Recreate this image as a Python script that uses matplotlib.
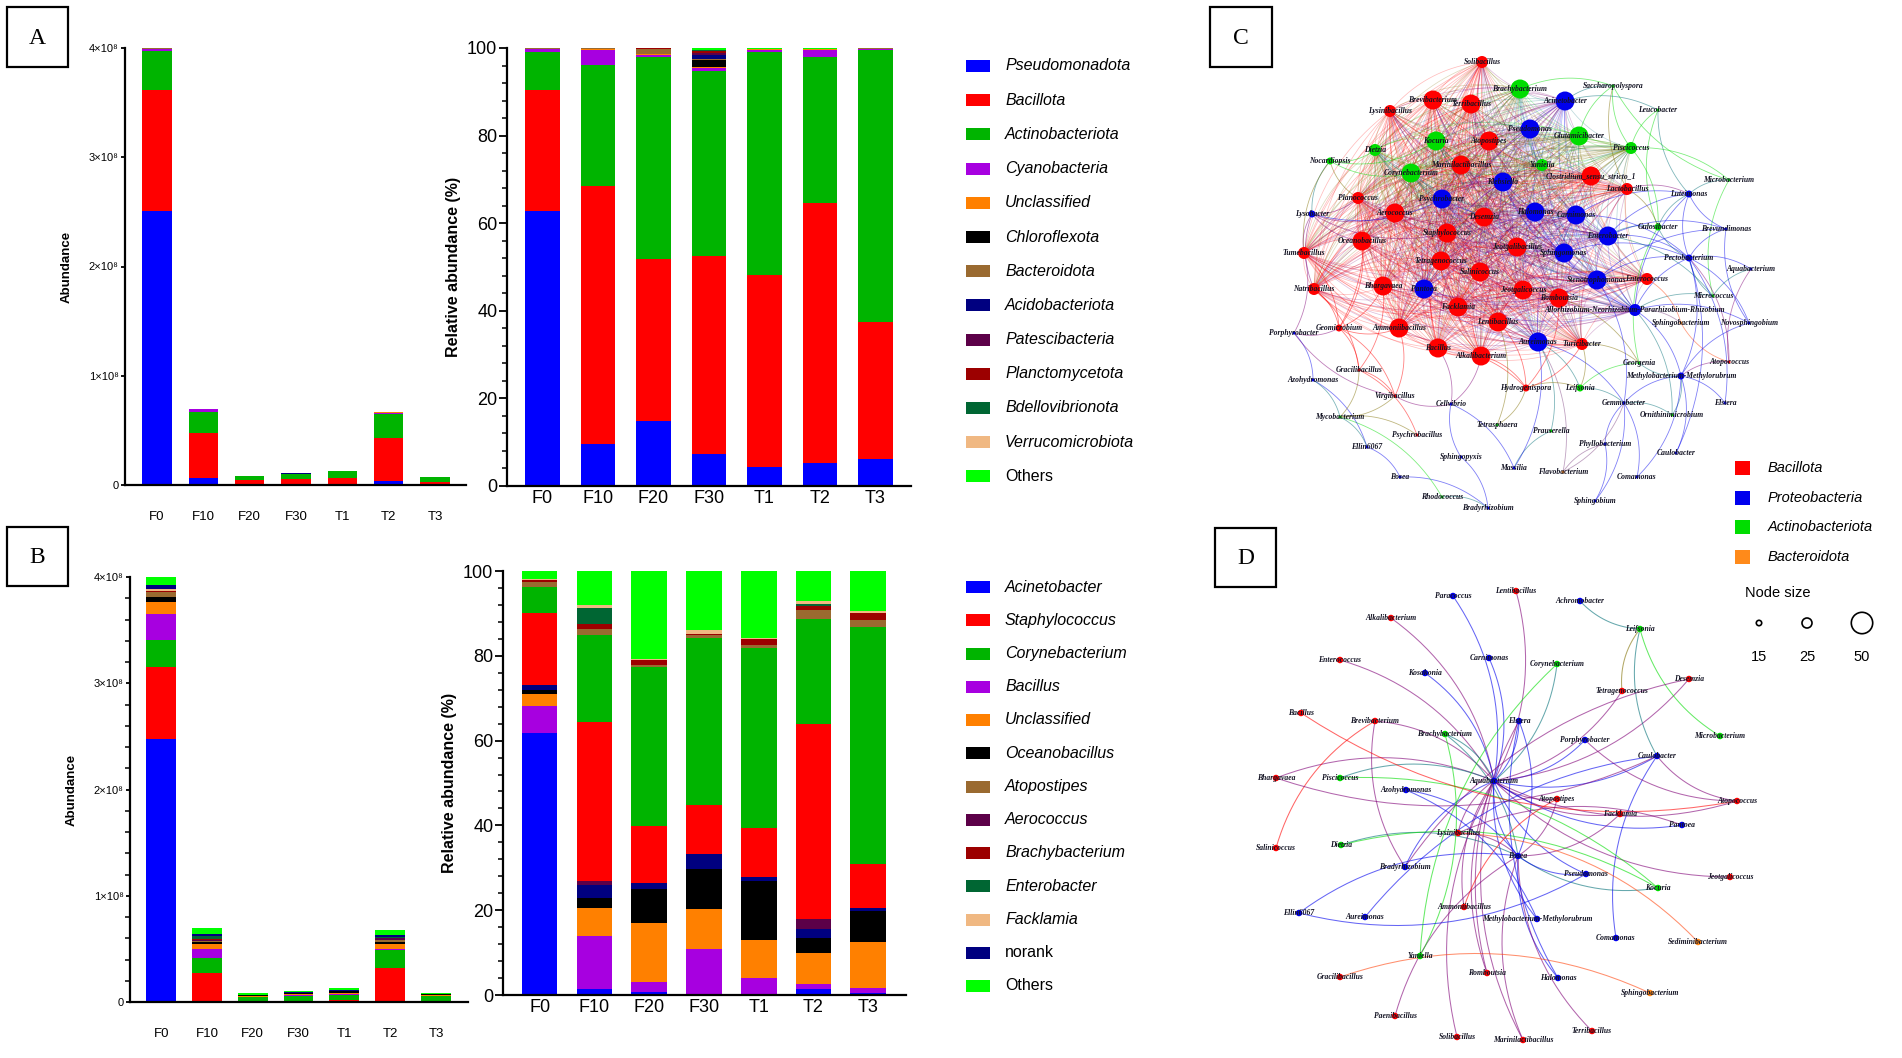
"""
Bacterial community bars (phylum / genus) plus co-occurrence networks.
"""

import numpy as np
import matplotlib
matplotlib.use("Agg")
import matplotlib.pyplot as plt
from matplotlib import font_manager
from matplotlib.collections import LineCollection
from matplotlib.patches import Rectangle, Circle

W, H = 1902, 1058

installed = {f.name for f in font_manager.fontManager.ttflist}
NARROW = "Liberation Sans Narrow" if "Liberation Sans Narrow" in installed else "Liberation Sans"
plt.rcParams["font.family"] = ["Liberation Sans", "DejaVu Sans"]

samples = ["F0", "F10", "F20", "F30", "T1", "T2", "T3"]

# ---- panel A: phyla, relative abundance (%) ----
phylum_names = ["Pseudomonadota", "Bacillota", "Actinobacteriota", "Cyanobacteria",
                "Unclassified", "Chloroflexota", "Bacteroidota", "Acidobacteriota",
                "Patescibacteria", "Planctomycetota", "Bdellovibrionota",
                "Verrucomicrobiota", "Others"]
phylum_colors = ["#0000ff", "#ff0000", "#00b400", "#a700e0", "#ff8000", "#000000",
                 "#9a6a30", "#000080", "#5c0048", "#9c0000", "#006633", "#f0b882",
                 "#00ff00"]
pseudomonadota = [62.7, 9.7, 14.9, 7.3, 4.3, 5.3, 6.1]
bacillota = [27.8, 58.8, 37.0, 45.3, 43.9, 59.3, 31.4]
actinobacteriota = [8.7, 27.7, 46.0, 42.1, 50.9, 33.3, 62.0]
cyanobacteria = [0.5, 3.3, 0.4, 0.7, 0.5, 1.7, 0.2]
unclassified_p = [0.1, 0.3, 0.3, 0.3, 0.1, 0.1, 0.1]
chloroflexota = [0.0, 0.0, 0.1, 1.6, 0.0, 0.0, 0.0]
bacteroidota = [0.1, 0.1, 1.0, 0.3, 0.1, 0.1, 0.1]
acidobacteriota = [0.0, 0.0, 0.1, 0.8, 0.0, 0.0, 0.0]
patescibacteria = [0.0, 0.0, 0.0, 0.5, 0.0, 0.0, 0.0]
planctomycetota = [0.0, 0.0, 0.1, 0.5, 0.0, 0.0, 0.0]
bdellovibrionota = [0.0, 0.0, 0.0, 0.1, 0.0, 0.0, 0.0]
verrucomicrobiota = [0.0, 0.1, 0.0, 0.1, 0.0, 0.0, 0.0]
others_p = [0.1, 0.0, 0.1, 0.4, 0.2, 0.2, 0.1]
phylum_rows = [pseudomonadota, bacillota, actinobacteriota, cyanobacteria, unclassified_p,
               chloroflexota, bacteroidota, acidobacteriota, patescibacteria,
               planctomycetota, bdellovibrionota, verrucomicrobiota, others_p]
total_a = [4.00e8, 0.696e8, 0.085e8, 0.107e8, 0.128e8, 0.666e8, 0.076e8]

# ---- panel B: genera, relative abundance (%) ----
genus_names = ["Acinetobacter", "Staphylococcus", "Corynebacterium", "Bacillus",
               "Unclassified", "Oceanobacillus", "Atopostipes", "Aerococcus",
               "Brachybacterium", "Enterobacter", "Facklamia", "norank", "Others"]
genus_colors = ["#0000ff", "#ff0000", "#00b400", "#a700e0", "#ff8000", "#000000",
                "#9a6a30", "#5c0048", "#9c0000", "#006633", "#f0b882", "#000080",
                "#00ff00"]
acinetobacter = [61.9, 1.5, 0.8, 0.0, 0.0, 1.5, 0.4]
staphylococcus = [17.0, 37.6, 13.5, 11.4, 11.6, 45.8, 10.4]
corynebacterium = [6.2, 20.3, 37.5, 39.5, 42.4, 24.9, 55.7]
bacillus = [6.3, 12.4, 2.3, 10.9, 3.9, 1.2, 1.3]
unclassified_g = [2.7, 6.6, 13.9, 9.4, 9.0, 7.3, 10.8]
oceanobacillus = [1.1, 2.3, 8.0, 9.3, 14.1, 3.5, 7.4]
atopostipes = [1.2, 1.6, 0.6, 0.6, 0.8, 2.2, 1.7]
aerococcus = [0.0, 1.0, 0.0, 0.0, 0.0, 2.5, 0.0]
brachybacterium = [0.4, 1.2, 1.2, 0.4, 1.4, 0.9, 1.7]
enterobacter = [0.0, 3.6, 0.0, 0.0, 0.0, 0.4, 0.0]
facklamia = [0.3, 0.7, 0.2, 0.8, 0.3, 0.8, 0.5]
norank = [1.0, 3.1, 1.3, 3.7, 0.8, 2.0, 0.7]
others_g = [1.9, 8.1, 20.7, 14.0, 15.7, 7.0, 9.4]
genus_rows = [acinetobacter, staphylococcus, corynebacterium, bacillus, unclassified_g,
              oceanobacillus, atopostipes, aerococcus, brachybacterium, enterobacter,
              facklamia, norank, others_g]
total_b = [4.00e8, 0.70e8, 0.085e8, 0.104e8, 0.129e8, 0.676e8, 0.085e8]
# stacking order used in the relative-abundance bars of panel B (bottom -> top)
genus_stack_rel = [0, 3, 4, 5, 11, 7, 1, 2, 6, 8, 9, 10, 12]

# ---- panel C: network nodes (layout in panel pixels) ----
net_colors = {"Bac": "#ff0000", "Pro": "#0000ee", "Act": "#00dd00", "Bct": "#ff8a1a"}
size_px = {"L": 19, "M": 12, "S": 7, "T": 3}
c_nodes = [
    ("Solibacillus", "Bac", "M", 292, 62), ("Brachybacterium", "Act", "L", 330, 89),
    ("Saccharopolyspora", "Act", "T", 423, 86), ("Acinetobacter", "Pro", "L", 375, 101),
    ("Leucobacter", "Act", "T", 468, 110), ("Brevibacterium", "Bac", "L", 243, 100),
    ("Terribacillus", "Bac", "L", 281, 104), ("Lysinibacillus", "Bac", "M", 200, 111),
    ("Pseudomonas", "Pro", "L", 340, 129), ("Glutamicibacter", "Act", "L", 389, 136),
    ("Kocuria", "Act", "L", 246, 141), ("Atopostipes", "Bac", "L", 299, 141),
    ("Dietzia", "Act", "M", 185, 150), ("Piscicoccus", "Act", "M", 441, 148),
    ("Nocardiopsis", "Act", "S", 140, 161), ("Marinilactibacillus", "Bac", "L", 271, 165),
    ("Yaniella", "Act", "M", 352, 165), ("Corynebacterium", "Act", "L", 221, 173),
    ("Clostridium_sensu_stricto_1", "Bac", "L", 401, 176), ("Klebsiella", "Pro", "L", 313, 182),
    ("Lactobacillus", "Bac", "M", 437, 189), ("Microbacterium", "Act", "T", 539, 180),
    ("Luteimonas", "Pro", "S", 499, 194), ("Planococcus", "Bac", "M", 168, 198),
    ("Psychrobacter", "Pro", "L", 252, 199), ("Lysobacter", "Pro", "S", 122, 214),
    ("Aerococcus", "Bac", "L", 205, 213), ("Desemzia", "Bac", "L", 294, 217),
    ("Halomonas", "Pro", "L", 345, 212), ("Carnimonas", "Pro", "L", 386, 215),
    ("Staphylococcus", "Bac", "L", 257, 233), ("Enterobacter", "Pro", "L", 418, 236),
    ("Gulosibacter", "Act", "S", 468, 227), ("Brevundimonas", "Pro", "T", 536, 229),
    ("Oceanobacillus", "Bac", "L", 172, 241), ("Tumebacillus", "Bac", "M", 114, 253),
    ("Jeotgalibacillus", "Bac", "L", 327, 247), ("Sphingomonas", "Pro", "L", 374, 253),
    ("Pectobacterium", "Pro", "S", 499, 258), ("Tetragenococcus", "Bac", "L", 251, 261),
    ("Salinicoccus", "Bac", "L", 290, 272), ("Aquabacterium", "Pro", "T", 561, 269),
    ("Natribacillus", "Bac", "M", 124, 289), ("Bhargavaea", "Bac", "L", 193, 286),
    ("Pantoea", "Pro", "L", 234, 289), ("Stenotrophomonas", "Pro", "L", 407, 280),
    ("Enterococcus", "Bac", "M", 457, 279), ("Jeotgalicoccus", "Bac", "L", 333, 290),
    ("Romboutsia", "Bac", "L", 369, 298), ("Facklamia", "Bac", "L", 268, 307),
    ("Allorhizobium-Neorhizobium-Pararhizobium-Rhizobium", "Pro", "M", 445, 310),
    ("Micrococcus", "Act", "T", 523, 296), ("Lentibacillus", "Bac", "L", 308, 322),
    ("Sphingobacterium", "Bct", "T", 491, 323), ("Novosphingobium", "Pro", "T", 559, 323),
    ("Geomicrobium", "Bac", "S", 149, 328), ("Porphyrobacter", "Pro", "T", 104, 333),
    ("Ammoniibacillus", "Bac", "L", 209, 328), ("Bacillus", "Bac", "L", 248, 348),
    ("Aureimonas", "Pro", "L", 348, 342), ("Turicibacter", "Bac", "M", 392, 344),
    ("Alkalibacterium", "Bac", "L", 291, 356), ("Georgenia", "Act", "T", 449, 363),
    ("Atopococcus", "Bac", "T", 539, 362), ("Gracilibacillus", "Bac", "T", 169, 370),
    ("Azohydromonas", "Pro", "T", 123, 380), ("Methylobacterium-Methylorubrum", "Pro", "S", 491, 376),
    ("Hydrogenispora", "Bac", "S", 336, 388), ("Leifsonia", "Act", "S", 390, 388),
    ("Virgibacillus", "Bac", "T", 205, 396), ("Cellvibrio", "Pro", "T", 261, 404),
    ("Gemmobacter", "Pro", "T", 434, 403), ("Elstera", "Pro", "T", 535, 403),
    ("Ornithinimicrobium", "Act", "T", 482, 415), ("Mycobacterium", "Act", "T", 150, 417),
    ("Tetrasphaera", "Act", "T", 307, 425), ("Psychrobacillus", "Bac", "T", 227, 435),
    ("Prauserella", "Act", "T", 361, 431), ("Phyllobacterium", "Pro", "T", 415, 444),
    ("Ellin6067", "Pro", "T", 177, 447), ("Caulobacter", "Pro", "T", 486, 453),
    ("Sphingopyxis", "Pro", "T", 271, 457), ("Massilia", "Pro", "T", 324, 468),
    ("Flavobacterium", "Bct", "T", 373, 472), ("Comamonas", "Pro", "T", 447, 477),
    ("Bosea", "Pro", "T", 210, 477), ("Rhodococcus", "Act", "T", 252, 497),
    ("Sphingobium", "Pro", "T", 405, 501), ("Bradyrhizobium", "Pro", "T", 298, 508),
]
# densely co-occurring core taxa (drawn as linked pairwise)
c_core = [n[0] for n in c_nodes if n[2] in ("L", "M")]
c_links = [
    ("Nocardiopsis", "Dietzia"), ("Nocardiopsis", "Corynebacterium"), ("Nocardiopsis", "Planococcus"),
    ("Nocardiopsis", "Lysobacter"), ("Nocardiopsis", "Kocuria"), ("Nocardiopsis", "Tumebacillus"),
    ("Lysobacter", "Planococcus"), ("Lysobacter", "Aerococcus"), ("Lysobacter", "Oceanobacillus"),
    ("Lysobacter", "Tumebacillus"), ("Lysobacter", "Natribacillus"), ("Lysobacter", "Psychrobacter"),
    ("Lysobacter", "Staphylococcus"), ("Saccharopolyspora", "Brachybacterium"),
    ("Saccharopolyspora", "Acinetobacter"), ("Saccharopolyspora", "Glutamicibacter"),
    ("Saccharopolyspora", "Piscicoccus"), ("Saccharopolyspora", "Lactobacillus"),
    ("Saccharopolyspora", "Microbacterium"), ("Leucobacter", "Piscicoccus"),
    ("Leucobacter", "Acinetobacter"), ("Leucobacter", "Gulosibacter"), ("Leucobacter", "Luteimonas"),
    ("Microbacterium", "Luteimonas"), ("Microbacterium", "Piscicoccus"), ("Microbacterium", "Micrococcus"),
    ("Luteimonas", "Lactobacillus"), ("Luteimonas", "Enterobacter"), ("Luteimonas", "Pectobacterium"),
    ("Luteimonas", "Brevundimonas"), ("Luteimonas", "Gulosibacter"), ("Luteimonas", "Carnimonas"),
    ("Luteimonas", "Allorhizobium-Neorhizobium-Pararhizobium-Rhizobium"),
    ("Gulosibacter", "Enterobacter"), ("Gulosibacter", "Piscicoccus"), ("Gulosibacter", "Lactobacillus"),
    ("Gulosibacter", "Pectobacterium"), ("Gulosibacter", "Georgenia"),
    ("Brevundimonas", "Pectobacterium"), ("Brevundimonas", "Enterobacter"),
    ("Brevundimonas", "Stenotrophomonas"), ("Brevundimonas", "Novosphingobium"),
    ("Pectobacterium", "Enterobacter"), ("Pectobacterium", "Stenotrophomonas"),
    ("Pectobacterium", "Allorhizobium-Neorhizobium-Pararhizobium-Rhizobium"),
    ("Pectobacterium", "Micrococcus"), ("Pectobacterium", "Carnimonas"), ("Pectobacterium", "Sphingomonas"),
    ("Aquabacterium", "Pectobacterium"), ("Aquabacterium", "Micrococcus"), ("Aquabacterium", "Atopococcus"),
    ("Micrococcus", "Allorhizobium-Neorhizobium-Pararhizobium-Rhizobium"), ("Micrococcus", "Enterobacter"),
    ("Novosphingobium", "Allorhizobium-Neorhizobium-Pararhizobium-Rhizobium"),
    ("Novosphingobium", "Methylobacterium-Methylorubrum"), ("Novosphingobium", "Pectobacterium"),
    ("Sphingobacterium", "Allorhizobium-Neorhizobium-Pararhizobium-Rhizobium"),
    ("Sphingobacterium", "Enterococcus"), ("Sphingobacterium", "Atopococcus"),
    ("Atopococcus", "Methylobacterium-Methylorubrum"), ("Atopococcus", "Pectobacterium"),
    ("Georgenia", "Turicibacter"), ("Georgenia", "Romboutsia"), ("Georgenia", "Methylobacterium-Methylorubrum"),
    ("Georgenia", "Leifsonia"), ("Methylobacterium-Methylorubrum", "Gemmobacter"),
    ("Methylobacterium-Methylorubrum", "Pectobacterium"),
    ("Methylobacterium-Methylorubrum", "Allorhizobium-Neorhizobium-Pararhizobium-Rhizobium"),
    ("Elstera", "Methylobacterium-Methylorubrum"), ("Elstera", "Pectobacterium"),
    ("Ornithinimicrobium", "Gemmobacter"), ("Ornithinimicrobium", "Methylobacterium-Methylorubrum"),
    ("Ornithinimicrobium", "Allorhizobium-Neorhizobium-Pararhizobium-Rhizobium"),
    ("Gemmobacter", "Leifsonia"), ("Gemmobacter", "Aureimonas"), ("Gemmobacter", "Phyllobacterium"),
    ("Gemmobacter", "Stenotrophomonas"), ("Caulobacter", "Methylobacterium-Methylorubrum"),
    ("Caulobacter", "Pectobacterium"), ("Comamonas", "Gemmobacter"),
    ("Comamonas", "Methylobacterium-Methylorubrum"), ("Sphingobium", "Phyllobacterium"),
    ("Sphingobium", "Gemmobacter"), ("Phyllobacterium", "Flavobacterium"),
    ("Flavobacterium", "Aureimonas"), ("Flavobacterium", "Gemmobacter"),
    ("Prauserella", "Massilia"), ("Prauserella", "Aureimonas"), ("Massilia", "Cellvibrio"),
    ("Massilia", "Aureimonas"), ("Leifsonia", "Turicibacter"), ("Leifsonia", "Aureimonas"),
    ("Leifsonia", "Hydrogenispora"), ("Hydrogenispora", "Alkalibacterium"),
    ("Hydrogenispora", "Lentibacillus"), ("Hydrogenispora", "Bacillus"), ("Hydrogenispora", "Turicibacter"),
    ("Hydrogenispora", "Romboutsia"), ("Tetrasphaera", "Hydrogenispora"), ("Tetrasphaera", "Lentibacillus"),
    ("Cellvibrio", "Sphingopyxis"), ("Cellvibrio", "Alkalibacterium"), ("Cellvibrio", "Bacillus"),
    ("Bradyrhizobium", "Bosea"), ("Bradyrhizobium", "Rhodococcus"), ("Bradyrhizobium", "Sphingopyxis"),
    ("Rhodococcus", "Mycobacterium"), ("Bosea", "Ellin6067"), ("Ellin6067", "Azohydromonas"),
    ("Ellin6067", "Mycobacterium"), ("Psychrobacillus", "Mycobacterium"),
    ("Psychrobacillus", "Gracilibacillus"), ("Mycobacterium", "Azohydromonas"),
    ("Mycobacterium", "Virgibacillus"), ("Mycobacterium", "Gracilibacillus"),
    ("Virgibacillus", "Gracilibacillus"), ("Virgibacillus", "Geomicrobium"),
    ("Virgibacillus", "Ammoniibacillus"), ("Virgibacillus", "Cellvibrio"),
    ("Azohydromonas", "Porphyrobacter"), ("Porphyrobacter", "Geomicrobium"),
    ("Porphyrobacter", "Virgibacillus"), ("Porphyrobacter", "Tumebacillus"),
    ("Gracilibacillus", "Geomicrobium"), ("Gracilibacillus", "Natribacillus"),
    ("Gracilibacillus", "Bhargavaea"), ("Geomicrobium", "Natribacillus"), ("Geomicrobium", "Bhargavaea"),
    ("Geomicrobium", "Ammoniibacillus"), ("Geomicrobium", "Oceanobacillus"),
    ("Geomicrobium", "Planococcus"), ("Geomicrobium", "Tumebacillus"),
]

# ---- panel D: network nodes (layout in panel pixels) ----
d_nodes = [
    ("Paracoccus", "Pro", 263, 66), ("Lentibacillus", "Bac", 326, 61), ("Achromobacter", "Pro", 390, 71),
    ("Alkalibacterium", "Bac", 201, 88), ("Leifsonia", "Act", 450, 99), ("Enterococcus", "Bac", 150, 130),
    ("Carnimonas", "Pro", 299, 128), ("Corynebacterium", "Act", 367, 134), ("Kosakonia", "Pro", 235, 143),
    ("Desemzia", "Bac", 499, 149), ("Tetragenococcus", "Bac", 432, 161), ("Bacillus", "Bac", 111, 183),
    ("Brevibacterium", "Bac", 185, 191), ("Elstera", "Pro", 329, 191), ("Brachybacterium", "Act", 255, 204),
    ("Porphyrobacter", "Pro", 395, 210), ("Microbacterium", "Act", 530, 206), ("Caulobacter", "Pro", 467, 226),
    ("Bhargavaea", "Bac", 86, 248), ("Piscicoccus", "Act", 150, 248), ("Aquabacterium", "Pro", 304, 251),
    ("Azohydromonas", "Pro", 216, 260), ("Atopostipes", "Bac", 367, 269), ("Atopococcus", "Bac", 547, 271),
    ("Facklamia", "Bac", 430, 284), ("Pantoea", "Pro", 492, 295), ("Lysinibacillus", "Bac", 268, 303),
    ("Salinicoccus", "Bac", 86, 318), ("Dietzia", "Act", 151, 315), ("Bosea", "Pro", 328, 326),
    ("Bradyrhizobium", "Pro", 215, 337), ("Pseudomonas", "Pro", 396, 344), ("Jeotgalicoccus", "Bac", 540, 347),
    ("Kocuria", "Act", 468, 358), ("Ellin6067", "Pro", 109, 383), ("Aureimonas", "Pro", 175, 387),
    ("Ammoniibacillus", "Bac", 274, 377), ("Methylobacterium-Methylorubrum", "Pro", 347, 389),
    ("Comamonas", "Pro", 426, 408), ("Sediminibacterium", "Bct", 508, 412), ("Yaniella", "Act", 230, 426),
    ("Gracilibacillus", "Bac", 150, 447), ("Romboutsia", "Bac", 297, 443), ("Halomonas", "Pro", 368, 448),
    ("Sphingobacterium", "Bct", 460, 463), ("Paenibacillus", "Bac", 205, 486),
    ("Solibacillus", "Bac", 267, 507), ("Marinilactibacillus", "Bac", 333, 510),
    ("Terribacillus", "Bac", 402, 501),
]
d_links = [("Aquabacterium", n) for n in [
    "Paracoccus", "Lentibacillus", "Alkalibacterium", "Enterococcus", "Carnimonas", "Kosakonia",
    "Elstera", "Brachybacterium", "Brevibacterium", "Bhargavaea", "Porphyrobacter", "Caulobacter",
    "Atopostipes", "Facklamia", "Pantoea", "Lysinibacillus", "Bosea", "Pseudomonas", "Atopococcus",
    "Desemzia", "Tetragenococcus", "Corynebacterium", "Jeotgalicoccus", "Methylobacterium-Methylorubrum",
    "Romboutsia", "Marinilactibacillus", "Ammoniibacillus", "Bradyrhizobium", "Solibacillus", "Piscicoccus"]]
d_links += [("Bosea", n) for n in [
    "Elstera", "Lysinibacillus", "Brachybacterium", "Atopostipes", "Kocuria", "Pseudomonas", "Halomonas",
    "Terribacillus", "Marinilactibacillus", "Paenibacillus", "Dietzia", "Ellin6067", "Azohydromonas",
    "Facklamia"]]
d_links += [
    ("Achromobacter", "Leifsonia"), ("Leifsonia", "Microbacterium"), ("Leifsonia", "Caulobacter"),
    ("Leifsonia", "Tetragenococcus"), ("Caulobacter", "Comamonas"), ("Caulobacter", "Atopococcus"),
    ("Caulobacter", "Aureimonas"), ("Sphingobacterium", "Gracilibacillus"),
    ("Sediminibacterium", "Lysinibacillus"), ("Kocuria", "Dietzia"), ("Kocuria", "Piscicoccus"),
    ("Yaniella", "Brachybacterium"), ("Brevibacterium", "Bradyrhizobium"), ("Brevibacterium", "Salinicoccus"),
    ("Bacillus", "Atopococcus"), ("Bhargavaea", "Caulobacter"), ("Pantoea", "Lysinibacillus"),
    ("Ellin6067", "Pseudomonas"), ("Desemzia", "Bradyrhizobium"), ("Porphyrobacter", "Atopococcus"),
    ("Elstera", "Halomonas"), ("Elstera", "Romboutsia"), ("Atopostipes", "Ammoniibacillus"),
    ("Corynebacterium", "Yaniella"), ("Methylobacterium-Methylorubrum", "Azohydromonas"),
]

# ------------------------------------------------------------------
fig = plt.figure(figsize=(W / 100, H / 100), dpi=100)


def px_axes(x0, y0, x1, y1):
    return fig.add_axes([x0 / W, 1 - y1 / H, (x1 - x0) / W, (y1 - y0) / H])


def style_axes(ax):
    for s in ("top", "right"):
        ax.spines[s].set_visible(False)
    for s in ("left", "bottom"):
        ax.spines[s].set_linewidth(1.6)
    ax.tick_params(axis="x", length=0)
    ax.tick_params(axis="y", which="major", direction="out", length=6, width=1.3)
    ax.tick_params(axis="y", which="minor", direction="out", length=3.5, width=1.1)


def stack(ax, rows, colors, order, scale, width):
    x = np.arange(len(samples))
    bottom = np.zeros(len(samples))
    for i in order:
        vals = np.array(rows[i]) * scale / 100.0
        ax.bar(x, vals, width, bottom=bottom, color=colors[i], edgecolor="none")
        bottom += vals


def abundance_chart(rect, rows, colors, totals, xlim, width, minor):
    ax = px_axes(*rect)
    stack(ax, rows, colors, range(len(rows)), np.array(totals), width)
    style_axes(ax)
    ax.set_xlim(*xlim)
    ax.set_ylim(0, 4e8)
    ax.set_xticks(range(len(samples)))
    ax.set_xticklabels(samples, fontsize=9.5, family=NARROW)
    ax.tick_params(axis="x", pad=19)
    ax.set_yticks([0, 1e8, 2e8, 3e8, 4e8])
    ax.set_yticklabels(["0", "1×10⁸", "2×10⁸", "3×10⁸", "4×10⁸"], fontsize=8,
                       family=[NARROW, "DejaVu Sans"])
    ax.tick_params(axis="y", which="major", length=3, pad=1.5)
    if minor:
        ax.set_yticks(np.arange(0, 4e8, 0.2e8), minor=True)
    ax.set_ylabel("Abundance", fontsize=9.5, fontweight="bold", labelpad=12)
    return ax


def relative_chart(rect, rows, colors, order, xlim, width):
    ax = px_axes(*rect)
    stack(ax, rows, colors, order, 100.0, width)
    style_axes(ax)
    ax.set_xlim(*xlim)
    ax.set_ylim(0, 100)
    ax.set_xticks(range(len(samples)))
    ax.set_xticklabels(samples, fontsize=13, family=NARROW)
    ax.tick_params(axis="x", pad=3)
    ax.set_yticks([0, 20, 40, 60, 80, 100])
    ax.set_yticklabels(["0", "20", "40", "60", "80", "100"], fontsize=13, family=NARROW)
    ax.tick_params(axis="y", which="major", pad=1)
    ax.set_yticks(np.arange(0, 100, 4), minor=True)
    ax.set_ylabel("Relative abundance (%)", fontsize=11.5, fontweight="bold", labelpad=4)
    return ax


abundance_chart((125, 48, 466, 485), phylum_rows, phylum_colors, total_a, (-0.69, 6.67), 0.63, False)
relative_chart((507, 48, 911, 486), phylum_rows, phylum_colors, range(13), (-0.64, 6.64), 0.63)
abundance_chart((130, 577, 468, 1002), genus_rows, genus_colors, total_b, (-0.68, 6.70), 0.65, True)
relative_chart((503, 571, 906, 995), genus_rows, genus_colors, genus_stack_rel, (-0.67, 6.69), 0.65)


# ---- networks ----
def mix(a, b):
    ca = np.array(matplotlib.colors.to_rgb(net_colors[a]))
    cb = np.array(matplotlib.colors.to_rgb(net_colors[b]))
    return tuple((ca + cb) / 2)


def arc(p, q, bend=0.2, n=22):
    p = np.asarray(p, float)
    q = np.asarray(q, float)
    d = q - p
    ctrl = (p + q) / 2 + bend * np.array([-d[1], d[0]])
    t = np.linspace(0, 1, n)[:, None]
    return (1 - t) ** 2 * p + 2 * (1 - t) * t * ctrl + t ** 2 * q


def draw_edges(ax, pos, phy, pairs, alpha, lw):
    segs = [arc(pos[a], pos[b]) for a, b in pairs]
    cols = [mix(phy[a], phy[b]) + (alpha,) for a, b in pairs]
    ax.add_collection(LineCollection(segs, colors=cols, linewidths=lw, zorder=1))


label_font = dict(family=["Liberation Serif", "DejaVu Serif"], style="italic",
                  fontweight="bold", color="#141424", ha="center", va="center", zorder=4)

axc = px_axes(1190, 0, 1902, 530)
axc.set_xlim(0, 712)
axc.set_ylim(530, 0)
axc.axis("off")
c_pos = {n[0]: (n[3], n[4]) for n in c_nodes}
c_phy = {n[0]: n[1] for n in c_nodes}
core_pairs = [(a, b) for i, a in enumerate(c_core) for b in c_core[i + 1:]]
draw_edges(axc, c_pos, c_phy, core_pairs, 0.26, 0.55)
draw_edges(axc, c_pos, c_phy, c_links, 0.5, 0.6)
for name, phy, sz, x, y in c_nodes:
    d = size_px[sz] * 0.72
    axc.scatter([x], [y], s=d * d, color=net_colors[phy], edgecolors="none", zorder=3)
    axc.text(x, y, name, fontsize=5.5, **label_font)

axd = px_axes(1190, 530, 1902, 1058)
axd.set_xlim(0, 712)
axd.set_ylim(528, 0)
axd.axis("off")
d_pos = {n[0]: (n[2], n[3]) for n in d_nodes}
d_phy = {n[0]: n[1] for n in d_nodes}
draw_edges(axd, d_pos, d_phy, d_links, 0.6, 0.75)
for name, phy, x, y in d_nodes:
    axd.scatter([x], [y], s=(6.5 * 0.72) ** 2, color=net_colors[phy], edgecolors="none", zorder=3)
    axd.text(x, y, name, fontsize=5.5, **label_font)

# ---- overlay: panel letters, legends ----
ov = fig.add_axes([0, 0, 1, 1])
ov.set_xlim(0, W)
ov.set_ylim(H, 0)
ov.axis("off")

for letter, (x0, y0, x1, y1) in zip("ABCD", [(7, 7, 68, 67), (7, 527, 68, 586),
                                             (1210, 7, 1272, 67), (1215, 528, 1276, 587)]):
    ov.add_patch(Rectangle((x0, y0), x1 - x0, y1 - y0, fill=False, lw=1.6, ec="black"))
    ov.text((x0 + x1) / 2, (y0 + y1) / 2 + 1, letter, fontsize=17,
            family=["Liberation Serif", "DejaVu Serif"], ha="center", va="center")


def bar_legend(labels, colors, y0, step):
    for i, (lab, col) in enumerate(zip(labels, colors)):
        y = y0 + i * step
        ov.add_patch(Rectangle((966, y - 6), 24, 12, fc=col, ec="none"))
        upright = lab in ("Others", "norank")
        ov.text(1005, y, lab, fontsize=11.5, family=NARROW, va="center", ha="left",
                style="normal" if upright else "italic")


bar_legend(phylum_names, phylum_colors, 66, 34.2)
bar_legend(genus_names, genus_colors, 587, 33.25)

for i, (lab, key) in enumerate([("Bacillota", "Bac"), ("Proteobacteria", "Pro"),
                                ("Actinobacteriota", "Act"), ("Bacteroidota", "Bct")]):
    y = 468 + i * 29.7
    ov.add_patch(Rectangle((1735, y - 7), 15, 14, fc=net_colors[key], ec="none"))
    ov.text(1768, y, lab, fontsize=10.5, style="italic", va="center", ha="left")

ov.text(1745, 593, "Node size", fontsize=10.5, va="center", ha="left")
for cx, r, lab in [(1759, 2.7, "15"), (1807, 5.0, "25"), (1862, 10.7, "50")]:
    ov.add_patch(Circle((cx, 623), r, fill=False, lw=1.2, ec="black"))
    ov.text(cx, 657, lab, fontsize=10.5, ha="center", va="center")

fig.savefig("out.png", dpi=100)
